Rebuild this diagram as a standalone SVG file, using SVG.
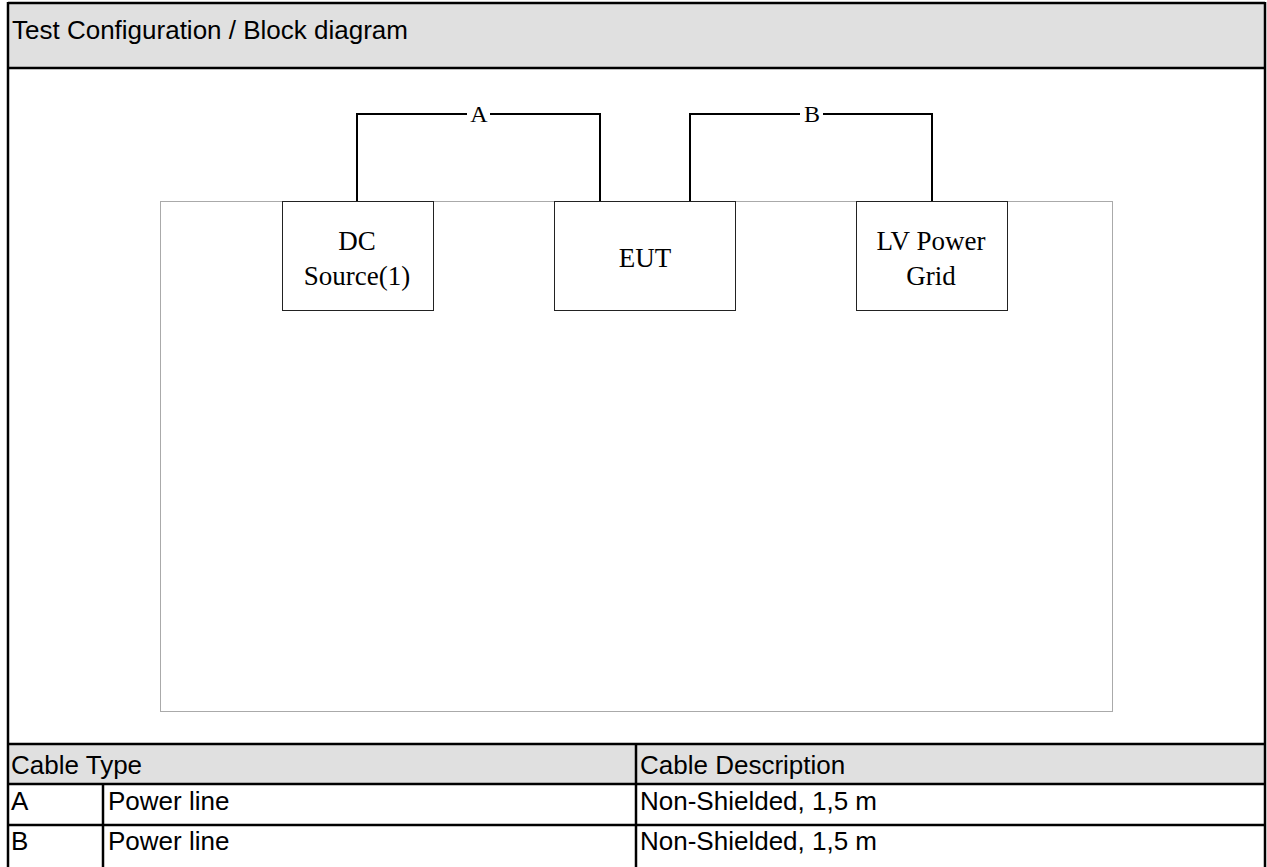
<svg xmlns="http://www.w3.org/2000/svg" width="1267" height="867" viewBox="0 0 1267 867">
<style>
.sans{font-family:"Liberation Sans",Arial,sans-serif;font-size:26px;fill:#000}
.serif{font-family:"Liberation Serif","Times New Roman",serif;font-size:27px;fill:#000}
.lbl{font-family:"Liberation Serif","Times New Roman",serif;font-size:24px;fill:#000}
.thick{stroke:#000;stroke-width:2.5;fill:none}
.box{fill:#fff;stroke:#222;stroke-width:1}
.wire{stroke:#000;stroke-width:2;fill:none}
</style>
<rect x="0" y="0" width="1267" height="867" fill="#fff"/>
<g id="header">
<rect x="8" y="3" width="1257" height="65" fill="#e0e0e0"/>
<text class="sans" x="12" y="39">Test Configuration / Block diagram</text>
</g>
<g id="table">
<rect x="8" y="744" width="1257" height="41" fill="#e0e0e0"/>
<text class="sans" x="11" y="774">Cable Type</text>
<text class="sans" x="640" y="774">Cable Description</text>
<text class="sans" x="11" y="810">A</text>
<text class="sans" x="108" y="810">Power line</text>
<text class="sans" x="640" y="810">Non-Shielded, 1,5 m</text>
<text class="sans" x="11" y="850">B</text>
<text class="sans" x="108" y="850">Power line</text>
<text class="sans" x="640" y="850">Non-Shielded, 1,5 m</text>
<line class="thick" x1="8" y1="744" x2="1265" y2="744"/>
<line class="thick" x1="8" y1="784" x2="1265" y2="784"/>
<line class="thick" x1="8" y1="825" x2="1265" y2="825"/>
<line class="thick" x1="103" y1="784" x2="103" y2="867"/>
<line class="thick" x1="636" y1="744" x2="636" y2="867"/>
</g>
<g id="frame">
<line class="thick" x1="8" y1="3" x2="1265" y2="3"/>
<line class="thick" x1="8" y1="68" x2="1265" y2="68"/>
<line class="thick" x1="8" y1="2" x2="8" y2="867"/>
<line class="thick" x1="1265" y1="2" x2="1265" y2="867"/>
</g>
<g id="area">
<rect x="160.5" y="201.5" width="952" height="510" fill="none" stroke="#555" stroke-width="1" stroke-dasharray="1,1"/>
</g>
<g id="connectors">
<polyline class="wire" points="357,201 357,114 600,114 600,201"/>
<polyline class="wire" points="690,201 690,114 932,114 932,201"/>
<rect x="467" y="104" width="23" height="20" fill="#fff"/>
<rect x="800" y="104" width="23" height="20" fill="#fff"/>
<text class="lbl" x="479" y="122" text-anchor="middle">A</text>
<text class="lbl" x="812" y="122" text-anchor="middle">B</text>
</g>
<g id="dc-source">
<rect class="box" x="282.5" y="201.5" width="151" height="109"/>
<text class="serif" x="357" y="250" text-anchor="middle">DC</text>
<text class="serif" x="357" y="285" text-anchor="middle">Source(1)</text>
</g>
<g id="eut">
<rect class="box" x="554.5" y="201.5" width="181" height="109"/>
<text class="serif" x="645" y="267" text-anchor="middle">EUT</text>
</g>
<g id="lv-grid">
<rect class="box" x="856.5" y="201.5" width="151" height="109"/>
<text class="serif" x="931" y="250" text-anchor="middle">LV Power</text>
<text class="serif" x="931" y="285" text-anchor="middle">Grid</text>
</g>
</svg>
